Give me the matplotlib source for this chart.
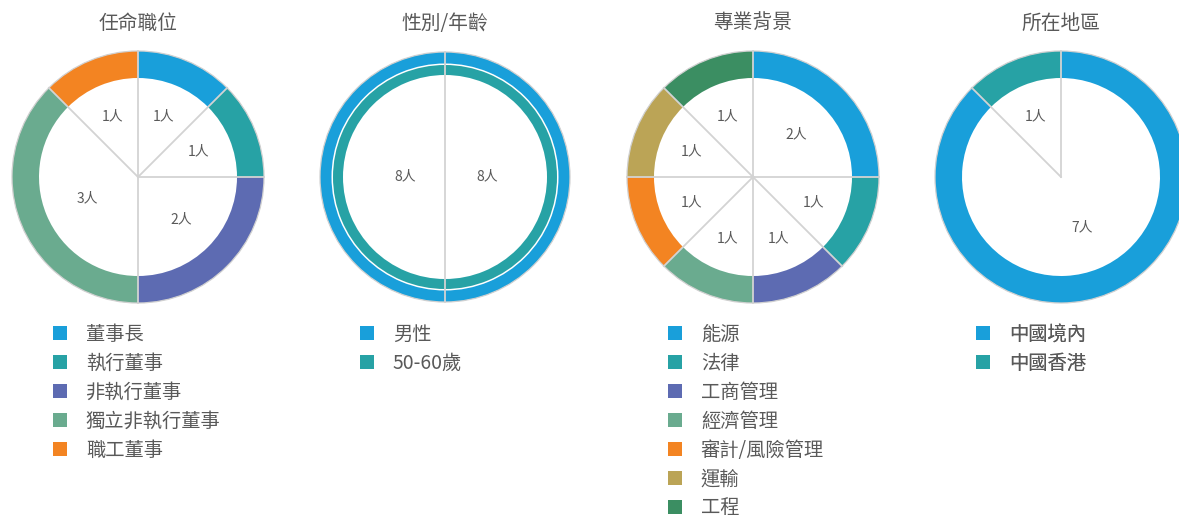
import numpy as np
import matplotlib
matplotlib.use("Agg")
import matplotlib.pyplot as plt
from matplotlib.patches import Patch, Circle

plt.rcParams['font.family'] = ['Noto Sans CJK TC', 'DejaVu Sans']

# ---------------- data ----------------
titles = ["任命職位", "性別/年齡", "專業背景", "所在地區"]

role_labels = ["董事長", "執行董事", "非執行董事", "獨立非執行董事", "職工董事"]
role_values = [1, 1, 2, 3, 1]

gender_labels = ["男性"]
gender_values = [8]
age_labels = ["50-60歲"]
age_values = [8]

field_labels = ["能源", "法律", "工商管理", "經濟管理", "審計/風險管理", "運輸", "工程"]
field_values = [2, 1, 1, 1, 1, 1, 1]

region_labels = ["中國境內", "中國香港"]
region_values = [7, 1]

# ---------------- style ----------------
BLUE = "#199fda"; TEAL = "#27a2a5"; PURPLE = "#5d6bb2"; MINT = "#6aab8f"
ORANGE = "#f38422"; OLIVE = "#bba456"; DKGREEN = "#3b8e62"
role_colors = [BLUE, TEAL, PURPLE, MINT, ORANGE]
field_colors = [BLUE, TEAL, PURPLE, MINT, ORANGE, OLIVE, DKGREEN]
region_colors = [BLUE, TEAL]
TXT = "#595959"
LINE = "#d3d3d3"

W, H = 1179, 517
fig = plt.figure(figsize=(W / 100, H / 100), dpi=100)
ax = fig.add_axes([0, 0, 1, 1])

centers = [138, 445, 753, 1061]
cy = H - 177
R = 126
RING = 27


def ring_chart(cx, values, colors, labels):
    ax.pie(values, colors=colors, radius=R, center=(cx, cy), startangle=90,
           counterclock=False, wedgeprops=dict(width=RING, edgecolor="none"), frame=True)
    vals = np.array(values, dtype=float)
    frac = np.concatenate([[0], np.cumsum(vals) / vals.sum()])
    # radial separators
    for f in frac[:-1]:
        a = np.pi / 2 - 2 * np.pi * f
        ax.plot([cx, cx + R * np.cos(a)], [cy, cy + R * np.sin(a)], color=LINE, lw=1.3, zorder=3)
    # value labels
    for i, v in enumerate(values):
        share = frac[i + 1] - frac[i]
        lr = max(54.0, 66.0 - 44.0 * (share - 0.125))
        m = (frac[i] + frac[i + 1]) / 2
        a = np.pi / 2 - 2 * np.pi * m
        ax.text(cx + lr * np.cos(a), cy + lr * np.sin(a), f"{v}人", ha="center", va="center",
                fontsize=10, color=TXT, zorder=4)
    ax.add_patch(Circle((cx, cy), R, fill=False, ec="#d0d0d0", lw=0.9, zorder=3))


def legend_at(cx, labels, colors):
    handles = [Patch(facecolor=c, edgecolor="none") for c in colors]
    leg = ax.legend(handles, labels, loc="upper left", bbox_to_anchor=(cx - 85, H - 324),
                    bbox_transform=ax.transData, frameon=False, fontsize=13.9,
                    handlelength=0.72, handleheight=0.72, handletextpad=0.98,
                    labelspacing=0.41, borderpad=0, borderaxespad=0, labelcolor=TXT)
    ax.add_artist(leg)


# chart 1
ring_chart(centers[0], role_values, role_colors, role_labels)
legend_at(centers[0], role_labels, role_colors)

# chart 2 : two concentric rings
cx2 = centers[1]
ax.pie(gender_values, colors=[BLUE], radius=125, center=(cx2, cy), startangle=90,
       counterclock=False, wedgeprops=dict(width=11.5, edgecolor="none"), frame=True)
ax.pie(age_values, colors=[TEAL], radius=112, center=(cx2, cy), startangle=90,
       counterclock=False, wedgeprops=dict(width=10, edgecolor="none"), frame=True)
ax.plot([cx2, cx2], [cy - 125, cy + 125], color=LINE, lw=1.3, zorder=3)
ax.add_patch(Circle((cx2, cy), 125, fill=False, ec="#d0d0d0", lw=0.9, zorder=3))
ax.text(cx2 + 42, cy + 1, f"{gender_values[0]}人", ha="center", va="center", fontsize=10, color=TXT)
ax.text(cx2 - 40, cy + 1, f"{age_values[0]}人", ha="center", va="center", fontsize=10, color=TXT)
legend_at(cx2, gender_labels + age_labels, [BLUE, TEAL])

# chart 3
ring_chart(centers[2], field_values, field_colors, field_labels)
legend_at(centers[2], field_labels, field_colors)

# chart 4
ring_chart(centers[3], region_values, region_colors, region_labels)
legend_at(centers[3], region_labels, region_colors)

for cx, t in zip(centers, titles):
    ax.text(cx, H - 23, t, ha="center", va="center", fontsize=14.2, color=TXT)

ax.set_xlim(0, W)
ax.set_ylim(0, H)
ax.set_aspect("equal")
ax.axis("off")

fig.savefig("out.png", dpi=100)
